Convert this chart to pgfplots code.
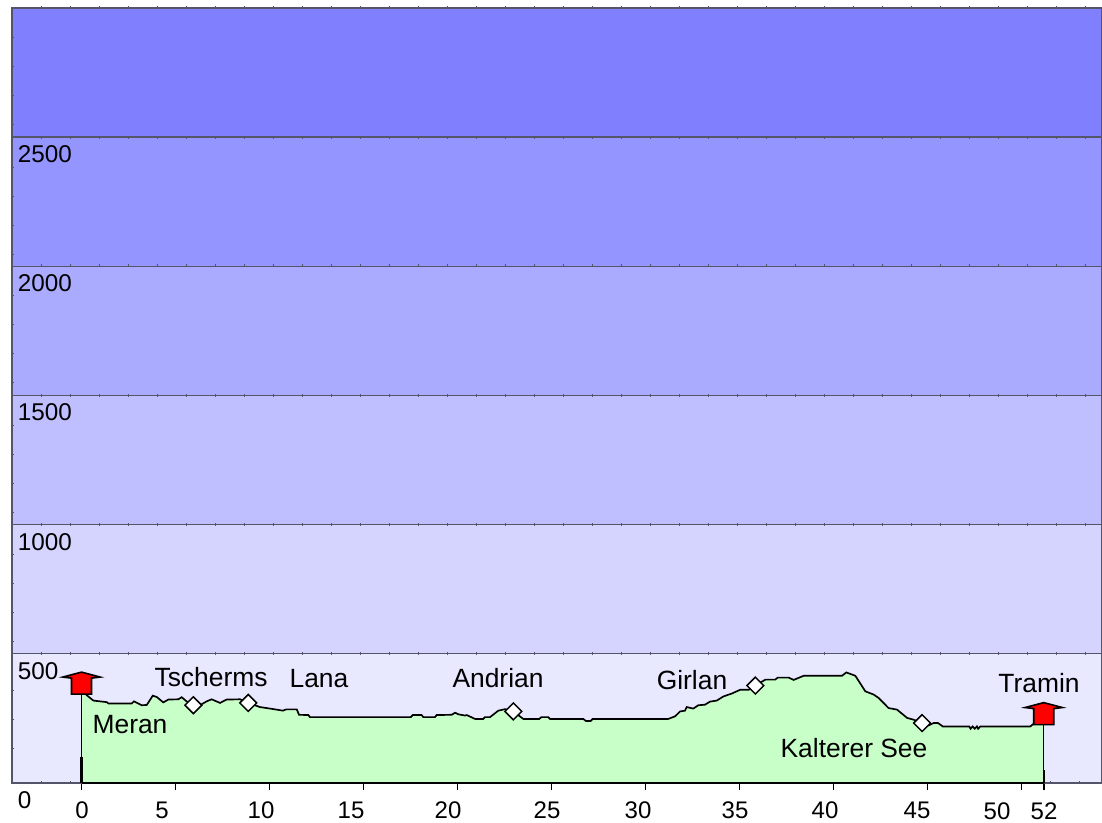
\documentclass[border=0pt]{standalone}
\usepackage{pgfplots}
\usepackage{pgfplotstable}
\usepackage{fontspec}
\setmainfont{Liberation Sans}
\pgfplotsset{compat=1.18}
\definecolor{b0}{HTML}{E8E8FF}
\definecolor{b1}{HTML}{D4D4FF}
\definecolor{b2}{HTML}{BFBFFF}
\definecolor{b3}{HTML}{AAAAFF}
\definecolor{b4}{HTML}{9595FF}
\definecolor{b5}{HTML}{8080FF}
\definecolor{land}{HTML}{C8FFC8}
\definecolor{rule}{HTML}{55556A}
\pgfplotsset{base/.style={
  at={(9pt,30pt)},anchor=south west,
  scale only axis,width=817.5pt,height=581.25pt,
  xmin=-3.697,xmax=54.28,ymin=0,ymax=3000,
  clip=false}}
\pgfdeclareplotmark{house}{%
  \pgfsetlinewidth{1.2pt}\pgfsetcolor{black}\pgfsetfillcolor{red}%
  \pgfpathmoveto{\pgfqpoint{-7.5pt}{0pt}}%
  \pgfpathlineto{\pgfqpoint{-7.5pt}{12pt}}%
  \pgfpathlineto{\pgfqpoint{-14pt}{12.8pt}}%
  \pgfpathlineto{\pgfqpoint{0pt}{16.5pt}}%
  \pgfpathlineto{\pgfqpoint{14pt}{12.8pt}}%
  \pgfpathlineto{\pgfqpoint{7.5pt}{12pt}}%
  \pgfpathlineto{\pgfqpoint{7.5pt}{0pt}}%
  \pgfpathclose\pgfusepathqfillstroke}
\pgfdeclareplotmark{wp}{%
  \pgfsetlinewidth{1.1pt}\pgfsetcolor{black}\pgfsetfillcolor{white}%
  \pgfpathmoveto{\pgfqpoint{-6.3pt}{0pt}}%
  \pgfpathlineto{\pgfqpoint{0pt}{6.3pt}}%
  \pgfpathlineto{\pgfqpoint{6.3pt}{0pt}}%
  \pgfpathlineto{\pgfqpoint{0pt}{-6.3pt}}%
  \pgfpathclose\pgfusepathqfillstroke}
\pgfplotstableread{
km z
0 361
0.31 338
0.63 319
1.34 313
1.43 308
2.67 308
2.79 316
3.20 301
3.47 302
3.79 338
4.00 333
4.35 312
4.62 323
5.15 324
5.33 332
5.59 316
5.95 301
6.30 301
6.66 316
6.92 324
7.37 310
7.72 323
8.43 324
8.87 310
9.49 294
9.85 290
10.38 284
10.71 280
10.89 285
11.45 285
11.57 264
12.07 263
12.15 255
17.51 255
17.62 263
18.09 263
18.18 255
18.80 255
18.89 263
19.69 264
19.87 272
20.04 266
20.40 261
20.49 263
20.93 248
21.37 248
21.46 255
21.73 255
22.17 280
22.53 286
22.97 277
23.50 248
24.35 248
24.46 255
24.83 255
24.92 248
26.69 248
26.83 240
27.08 240
27.19 248
31.21 248
31.57 258
31.84 277
32.10 280
32.19 294
32.54 288
32.81 301
33.16 303
33.43 315
33.79 319
34.14 335
34.58 346
35.04 361
35.49 361
35.84 377
36.37 400
36.90 400
37.03 408
37.61 408
37.88 399
38.41 415
40.45 415
40.68 428
41.16 415
41.69 355
42.14 342
42.40 329
42.93 290
43.38 284
43.91 252
44.26 245
44.71 232
45.06 223
45.32 232
45.56 232
45.81 219
47.22 219
47.29 210
47.40 219
47.51 210
47.63 219
47.69 210
47.81 219
50.47 219
50.65 230
51.09 230
51.18 232
}\profile
\newcommand{\lbl}[3]{\node[inner sep=0pt,font=\fontsize{18}{20}\selectfont,text=black] at ({#1*0.75pt},{(823-#2)*0.75pt}) {#3};}
\newcommand{\nam}[3]{\node[inner sep=0pt,font=\fontsize{19.8}{22}\selectfont,text=black] at ({#1*0.75pt},{(823-#2)*0.75pt}) {#3};}
\begin{document}
\begin{tikzpicture}
\path[use as bounding box] (0,0) rectangle (826.5pt,617.25pt);
\begin{axis}[base,xtick=\empty,ytick=\empty,axis line style={draw=none}]
\addplot[fill=b0,draw=none] coordinates {(-3.697,0)(54.28,0)(54.28,500)(-3.697,500)} --cycle;
\addplot[fill=b1,draw=none] coordinates {(-3.697,500)(54.28,500)(54.28,1000)(-3.697,1000)} --cycle;
\addplot[fill=b2,draw=none] coordinates {(-3.697,1000)(54.28,1000)(54.28,1500)(-3.697,1500)} --cycle;
\addplot[fill=b3,draw=none] coordinates {(-3.697,1500)(54.28,1500)(54.28,2000)(-3.697,2000)} --cycle;
\addplot[fill=b4,draw=none] coordinates {(-3.697,2000)(54.28,2000)(54.28,2500)(-3.697,2500)} --cycle;
\addplot[fill=b5,draw=none] coordinates {(-3.697,2500)(54.28,2500)(54.28,3000)(-3.697,3000)} --cycle;
\addplot[rule,line width=1pt] coordinates {(-3.697,500)(54.28,500)};
\addplot[rule,line width=1pt] coordinates {(-3.697,1000)(54.28,1000)};
\addplot[rule,line width=1pt] coordinates {(-3.697,1500)(54.28,1500)};
\addplot[rule,line width=1pt] coordinates {(-3.697,2000)(54.28,2000)};
\addplot[rule,line width=1pt] coordinates {(-3.697,2500)(54.28,2500)};
\end{axis}
\foreach \y in {8,138,266,396,525,654}{
  \foreach \x in {41,70,...,1100}{
    \draw[rule,line width=0.5pt] ({\x*0.75pt},{(823-\y+1.5)*0.75pt}) -- ++(0,-2.25pt);
  }
}
\foreach \x in {41,70,1050,1079}{
  \draw[rule,line width=0.5pt] ({\x*0.75pt},{(823-783+1.5)*0.75pt}) -- ++(0,-2.25pt);
}
\foreach \y in {37,66,95,124,167,196,225,254,295,324,353,382,425,454,483,512,554,583,612,641,690,719,748}{
  \draw[rule,line width=0.5pt] ({10.5*0.75pt},{(823-\y)*0.75pt}) -- ++(2.25pt,0);
}
\begin{axis}[base,
  axis line style={draw=rule,line width=1pt},
  xtick={0,5,10,15,20,25,30,35,40,45,50,51.18},
  xticklabels={},
  xtick pos=bottom,
  x tick style={draw=black,line width=1.2pt},
  tick align=outside,major tick length=5.5pt,
  ytick={0,500,1000,1500,2000,2500},
  yticklabels={0,500,1000,1500,2000,2500},
  y tick style={draw=none},
  ytick pos=left,
  /pgf/number format/assume math mode=true,
  yticklabel style={anchor=west,inner sep=0pt,font=\fontsize{18.2}{20}\selectfont,xshift=9.75pt,yshift=-12.75pt},
]
\addplot[fill=land,draw=none] table[x=km,y=z] {\profile} \closedcycle;
\addplot[black,line width=1.25pt] table[x=km,y=z] {\profile};
\addplot[black,line width=1.1pt] coordinates {(0,0)(0,361)};
\addplot[black,line width=1.1pt] coordinates {(51.18,0)(51.18,232)};
\addplot[black,line width=1.7pt] coordinates {(0,0)(51.18,0)};
\addplot[black,line width=1.7pt] coordinates {(0,0)(0,100)};
\addplot[black,line width=1.7pt] coordinates {(51.18,0)(51.18,50)};
\addplot[only marks,mark=wp] coordinates {(5.95,301)(8.87,310)(22.97,277)(35.84,377)(44.71,232)};
\addplot[only marks,mark=house] coordinates {(0,344)(51.18,226)};
\end{axis}
\lbl{82}{810}{0}\lbl{162}{810}{5}\lbl{261}{810}{10}\lbl{351}{810}{15}
\lbl{448}{810}{20}\lbl{547}{810}{25}\lbl{638}{810}{30}\lbl{735}{810}{35}
\lbl{825}{810}{40}\lbl{917}{810}{45}\lbl{997}{811}{50}\lbl{1044}{811}{52}
\nam{211}{677}{Tscherms}\nam{319}{679}{Lana}\nam{130}{725}{Meran}
\nam{498}{678}{Andrian}\nam{692}{680}{Girlan}\nam{1039}{683}{Tramin}
\nam{854}{748}{Kalterer See}
\end{tikzpicture}
\end{document}
